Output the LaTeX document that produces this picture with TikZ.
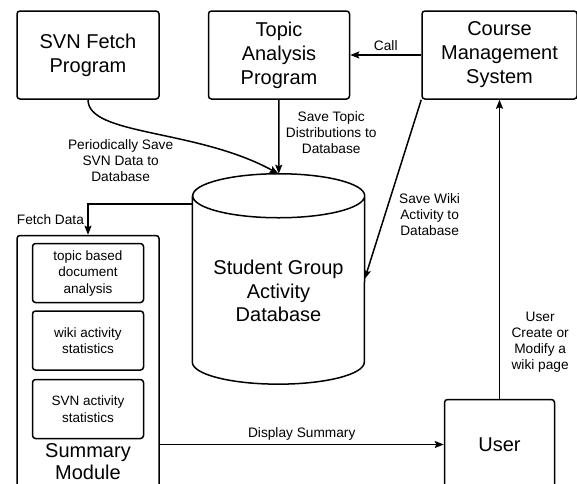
\documentclass[tikz,border=0pt]{standalone}
\usepackage{fontspec}
\setmainfont{Liberation Sans}
\usepackage{tikz}
\usetikzlibrary{arrows.meta,shapes,positioning}
\tikzstyle{program} = [rectangle, rounded corners=3pt, minimum width=142pt, minimum height=88pt, align=center, draw, line width=1.5pt, font=\fontsize{20}{24}\selectfont]
\tikzstyle{submodule} = [rectangle, rounded corners=3pt, minimum width=111pt, minimum height=59pt, align=center, draw, line width=1.5pt, font=\fontsize{13.5}{16.5}\selectfont]
\tikzstyle{arrow} = [line width=1.5pt,->,>={Stealth[length=9pt,width=7pt,inset=1.5pt]}]
\tikzstyle{note} = [align=center, font=\fontsize{13.7}{16}\selectfont]
\begin{document}
\begin{tikzpicture}[x=1pt, y=-1pt]
\useasboundingbox (0,0) rectangle (577,483);
% Programs
\node (svn) [program] at (88,55) {SVN Fetch\\Program};
\node (topic) [program, minimum width=141pt, right=48pt of svn] {Topic\\Analysis\\Program};
\node (cms) [program, minimum width=155pt, right=71pt of topic] {Course\\Management\\System};

% Database
\node (db) [minimum width=172pt, minimum height=210pt, inner sep=0pt, below=74pt of topic, xshift=-0.5pt] {};
\draw[line width=1.5pt] ([yshift=-22pt]db.north west) -- ([yshift=22pt]db.south west)
  arc[start angle=180, end angle=360, x radius=86pt, y radius=22pt]
  -- ([yshift=-22pt]db.north east)
  arc[start angle=0, end angle=360, x radius=86pt, y radius=22pt];
\node (dbtext) [align=center, font=\fontsize{20}{23.5}\selectfont] at ([yshift=-12pt]db.center) {Student Group\\Activity\\Database};

% Summary module
\node (summary) [draw, rounded corners=3pt, line width=1.5pt, minimum width=142pt, minimum height=260pt, below=135pt of svn] {};
\node (topics) [submodule, below=8pt of summary.north] {topic based\\document\\analysis};
\node (wiki) [submodule, below=7pt of topics] {wiki activity\\statistics};
\node (svnstat) [submodule, below=8pt of wiki] {SVN activity\\statistics};
\node (summarytext) [below=4pt of svnstat, inner sep=0pt, align=center, font=\fontsize{20}{22}\selectfont] {Summary\\Module};

% User
\node (user) [program, minimum width=110pt, minimum height=90pt, below=299pt of cms] {User};

% Connectors
\draw[arrow] (cms) -- node[note, above] {Call} (topic);
\draw[arrow] (topic) -- node[note, right, pos=0.45, xshift=3pt] {Save Topic\\Distributions to\\Database} (db);
\draw[arrow] (svn.south) .. controls +(0,36) and +(-82,-45) .. node[note, pos=0.3, below=12pt, xshift=7pt] {Periodically Save\\SVN Data to\\Database} (db.north);
\draw[arrow] ([yshift=-30pt]db.north west) -| node[note, pos=0.75, left] {Fetch Data} (summary.north);
\draw[arrow] (cms.south west) -- node[note, pos=0.64, right=10pt] {Save Wiki\\Activity to\\Database} (db.east);
\draw[arrow] (user) -- node[note, pos=0.19, right=8pt] {User\\Create or\\Modify a\\wiki page} (cms);
\draw[arrow] (summary.east |- user.west) -- node[note, above] {Display Summary} (user.west);
\end{tikzpicture}
\end{document}
